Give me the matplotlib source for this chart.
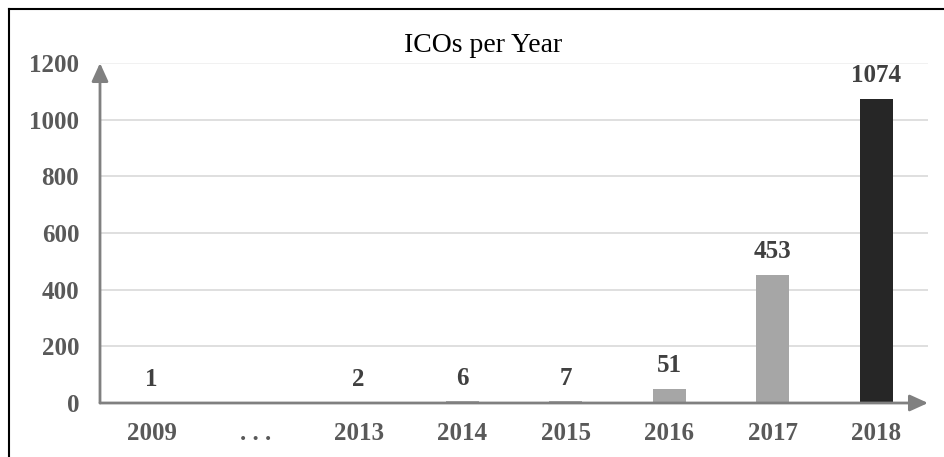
import matplotlib
matplotlib.use("Agg")
import matplotlib.pyplot as plt

categories = ["2009", ". . .", "2013", "2014", "2015", "2016", "2017", "2018"]
values = [1, None, 2, 6, 7, 51, 453, 1074]
yticks = [0, 200, 400, 600, 800, 1000, 1200]
title = "ICOs per Year"

bar_colors = ["#a6a6a6"] * 7 + ["#262626"]

W, H = 945, 457
fig = plt.figure(figsize=(W / 100, H / 100), dpi=100)
plt.rcParams['font.family'] = ['Liberation Serif', 'DejaVu Serif']

ax = fig.add_axes([100 / W, (H - 403) / H, (928 - 100) / W, (403 - 63) / H])
ax.set_xlim(-0.5, len(categories) - 0.5)
ax.set_ylim(0, 1200)
for s in ax.spines.values():
    s.set_visible(False)

# gridlines
for t in yticks[1:]:
    ax.axhline(t, color="#d9d9d9" if t < 1200 else "#efefef", lw=1.2, zorder=0)

xs = list(range(len(categories)))
for x, v, c in zip(xs, values, bar_colors):
    if v is None:
        continue
    ax.bar(x, v, width=0.32, color=c, zorder=2)
    ax.annotate(str(v), (x, v), xytext=(0, 23), textcoords="offset pixels",
                ha="center", va="center", fontsize=18, fontweight="bold",
                color="#404040")

# axes arrows
ap = dict(arrowstyle="-|>,head_length=1.1,head_width=0.5",
          color="#808080", lw=2, shrinkA=0, shrinkB=0)
ax.annotate("", xy=(1.0, 0), xycoords="axes fraction", xytext=(0, 0),
            arrowprops=ap, zorder=3)
ax.annotate("", xy=(0, 1.0), xycoords="axes fraction", xytext=(0, 0),
            arrowprops=ap, zorder=3)

ax.set_xticks(xs)
ax.set_xticklabels(categories)
ax.set_yticks(yticks)
ax.set_yticklabels([str(t) for t in yticks])
ax.tick_params(axis="both", length=0, labelsize=18, labelcolor="#595959")
ax.tick_params(axis="x", pad=14)
ax.tick_params(axis="y", pad=15)
for lab in ax.get_xticklabels() + ax.get_yticklabels():
    lab.set_fontweight("bold")

fig.text(483 / W, 1 - 45 / H, title, ha="center", va="center", fontsize=20,
         color="#000000")

# outer frame (left and top)
fig.add_artist(plt.Line2D([9 / W, 9 / W], [0, 1 - 9 / H], color="black", lw=1.5,
                          transform=fig.transFigure))
fig.add_artist(plt.Line2D([9 / W, 1], [1 - 9 / H, 1 - 9 / H], color="black", lw=1.5,
                          transform=fig.transFigure))

fig.savefig("out.png", dpi=100)
